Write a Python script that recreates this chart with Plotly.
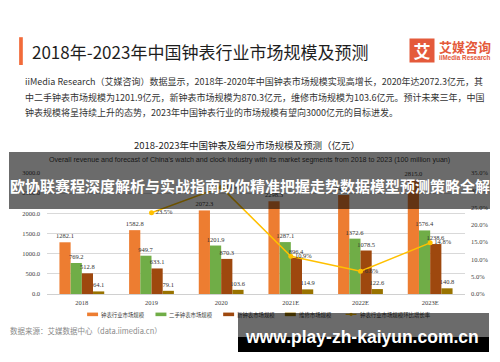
import plotly.graph_objects as go

# ---------------- data ----------------
years = ["2018", "2019", "2020", "2021E", "2022E", "2023E"]
total_market = [1282.1, 1582.8, 2072.3, 2298.3, 2452.0, 2815.0]
second_hand = [769.2, 949.7, 1201.9, 1287.1, 1372.6, 1576.4]
new_watch = [512.8, 633.1, 870.3, 896.4, 1078.5, 1238.6]
repair = [64.1, 79.1, 103.6, 114.9, 122.6, 140.8]
growth = [None, 0.235, 0.309, 0.109, 0.066, 0.148]

bar_names = ["钟表行业市场规模", "二手钟表市场规模", "新钟表市场规模", "维修市场规模"]
line_name = "钟表行业市场规模环比增长率"
bar_series = [total_market, second_hand, new_watch, repair]
bar_colors = ["#ED7D31", "#70AD47", "#9E480E", "#997300"]
line_color = "#FFC000"

page_title = "2018年-2023年中国钟表行业市场规模及预测"
para_lines = [
    "iiMedia Research（艾媒咨询）数据显示，2018年-2020年中国钟表市场规模实现高增长，2020年达2072.3亿元，其",
    "中二手钟表市场规模为1201.9亿元，新钟表市场规模为870.3亿元，维修市场规模为103.6亿元。预计未来三年，中国",
    "钟表规模将呈持续上升的态势，2023年中国钟表行业的市场规模有望向3000亿元的目标进发。",
]
chart_title = "2018-2023年中国钟表及细分市场规模及预测（亿元）"
chart_sub = ("Overall revenue and forecast of China's watch and clock industry with its market "
             "segments from 2018 to 2023 (100 million yuan)")
source_text = "数据来源：艾媒数据中心（data.iimedia.cn）"
banner_text = "欧协联赛程深度解析与实战指南助你精准把握走势数据模型预测策略全解"
url_text = "www.play-zh-kaiyun.com.cn"

# ---------------- geometry helpers ----------------
W, H = 500, 362
L, R, T, B = 47, 33, 172.7, 67.5
PW, PH = W - L - R, H - T - B


def px(x):
    return (x - L) / PW


def py(y):
    return (H - B - y) / PH


CJK = "Noto Sans CJK SC"
SERIF = "Liberation Serif"

fig = go.Figure()

for name, vals, col in zip(bar_names, bar_series, bar_colors):
    fig.add_trace(go.Bar(
        x=years, y=vals, name=name, marker=dict(color=col, line=dict(width=0)),
        text=[f"{v:.1f}" for v in vals], textposition="outside",
        textfont=dict(family=SERIF, size=6.5, color="#333333"),
        constraintext="none", cliponaxis=False, showlegend=False,
    ))

fig.add_trace(go.Scatter(
    x=years, y=growth, name=line_name, yaxis="y2", mode="lines+markers+text",
    line=dict(color=line_color, width=1.5), marker=dict(color=line_color, size=5),
    text=[("" if g is None else f"{g*100:.1f}%") for g in growth],
    textposition="middle right",
    textfont=dict(family=SERIF, size=6.5, color="#333333"),
    cliponaxis=False, showlegend=False,
))

ann = []
shapes = []


def text(x, y, s, size, color="#333333", family=CJK, xanchor="left", weight="normal"):
    ann.append(dict(x=px(x), y=py(y), xref="paper", yref="paper", text=s, showarrow=False,
                    xanchor=xanchor, yanchor="middle",
                    font=dict(family=family, size=size, color=color, weight=weight)))


def box(x0, x1, y0, y1, color):
    ann.append(dict(x=px((x0 + x1) / 2), y=py((y0 + y1) / 2), xref="paper", yref="paper",
                    text=" ", showarrow=False, xanchor="center", yanchor="middle",
                    width=x1 - x0, height=y1 - y0, bgcolor=color, borderpad=0, borderwidth=0))


# header
shapes.append(dict(type="rect", xref="paper", yref="paper", x0=px(19), x1=px(22.7),
                   y0=py(64), y1=py(36), fillcolor="#F26B3A", line=dict(width=0)))
text(30, 50, page_title, 17, "#1e1e1e")
ann.append(dict(x=px(424), y=py(49.5), xref="paper", yref="paper", text="艾", showarrow=False,
                xanchor="center", yanchor="middle", width=24, height=23, bgcolor="#E45A3B",
                borderpad=0, font=dict(family=CJK, size=17, color="white", weight="bold")))
text(439, 45, "艾媒咨询", 13, "#E45A3B", weight="bold")
text(439, 56.7, "iiMedia Research", 6.3, "#E45A3B", family="Liberation Sans", weight="bold")

for i, ln in enumerate(para_lines):
    text(22.7, [81, 97, 112.3][i], ln, 9, "#333333")

text(247.5, 145, chart_title, 9.5, "#262626", xanchor="center")
text(250.3, 159.3, chart_sub, 7.1, "#404040", family="Liberation Sans", xanchor="center")

# legend (custom)
leg_x = [87.3, 156, 224, 286]
for name, col, x0 in zip(bar_names, bar_colors, leg_x):
    shapes.append(dict(type="rect", xref="paper", yref="paper", x0=px(x0), x1=px(x0 + 11),
                       y0=py(316.8), y1=py(313.2), fillcolor=col, line=dict(width=0)))
    text(x0 + 12, 315.2, name, 5.4, "#404040")
shapes.append(dict(type="line", xref="paper", yref="paper", x0=px(347), x1=px(358),
                   y0=py(315), y1=py(315), line=dict(color=line_color, width=1.2)))
shapes.append(dict(type="circle", xref="paper", yref="paper", x0=px(350.8), x1=px(354.2),
                   y0=py(316.7), y1=py(313.3), fillcolor=line_color, line=dict(width=0)))
text(359.5, 315.2, line_name, 5.4, "#404040")

text(8, 331.7, source_text, 7.5, "#8a8a8a")

# overlays
box(10, 491, 152, 209, "rgba(0,0,0,0.58)")
text(250.5, 185, banner_text, 15, "white", xanchor="center", weight="bold")
box(240, 491, 314, 338, "rgba(0,0,0,0.58)")
box(240, 491, 338, 353, "#000000")
text(364, 337.5, url_text, 17.5, "white", family="Liberation Sans", xanchor="center", weight="bold")

fig.update_layout(
    width=W, height=H, margin=dict(l=L, r=R, t=T, b=B, pad=0),
    paper_bgcolor="white", plot_bgcolor="white",
    barmode="group", bargap=0.357, bargroupgap=0,
    showlegend=False,
    xaxis=dict(showgrid=False, showline=False, zeroline=False, ticks="",
               tickfont=dict(family=SERIF, size=6.5, color="#404040"), ticklabelstandoff=3),
    yaxis=dict(range=[0, 3000], dtick=500, tickformat=".1f", showgrid=True,
               gridcolor="#D9D9D9", gridwidth=0.8, zeroline=True, zerolinecolor="#D0D0D0",
               zerolinewidth=1, showline=False, ticks="",
               tickfont=dict(family=SERIF, size=6.5, color="#404040"), ticklabelstandoff=6),
    yaxis2=dict(range=[0, 0.35], dtick=0.05, tickformat=".1%", overlaying="y", side="right",
                showgrid=False, zeroline=False, showline=False, ticks="",
                tickfont=dict(family=SERIF, size=6.5, color="#404040"), ticklabelstandoff=5),
    annotations=ann, shapes=shapes,
)

fig.write_html("out.html")
